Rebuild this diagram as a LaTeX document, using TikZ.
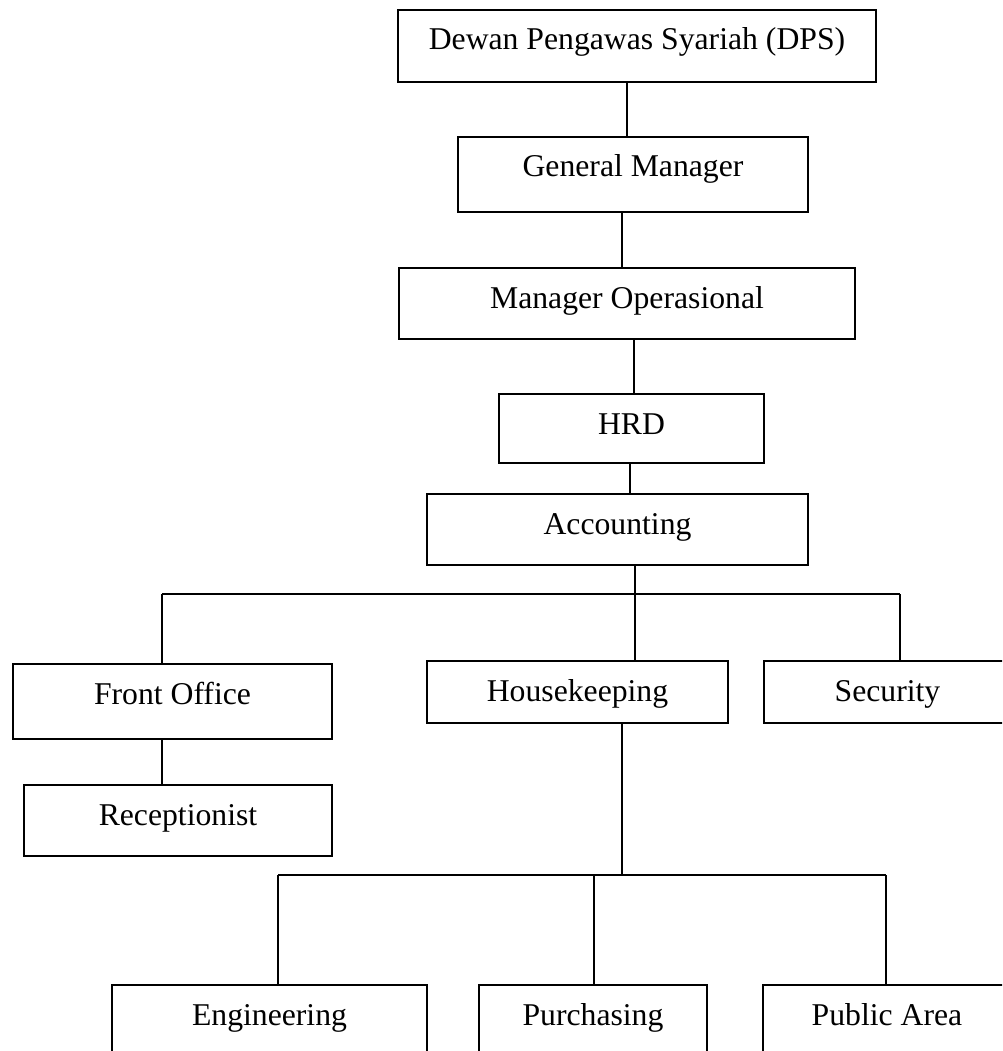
\documentclass[tikz,border=0pt]{standalone}
\usepackage{fontspec}
\setmainfont{Liberation Serif}
\usepackage{tikz}
\usetikzlibrary{positioning}

\begin{document}
\begin{tikzpicture}[
    x=1pt, y=-1pt,
    post/.style={rectangle, draw, line width=2pt, anchor=north west, inner xsep=0pt, inner ysep=0pt, text height=40pt, font=\fontsize{31.7}{38}\selectfont},
    link/.style={draw, line width=1.5pt},
]
\useasboundingbox (0,0) rectangle (1002,1051);
\clip (0,0) rectangle (1002,1051);

% upper chain
\node[post, minimum width=478pt, text depth=32pt] (dps) at (397,9) {Dewan Pengawas Syariah (DPS)};
\node[post, minimum width=350pt, text depth=35pt] (gm) at (457,136) {General Manager};
\node[post, minimum width=456pt, text depth=31pt] (mo) at (398,267) {Manager Operasional};
\node[post, minimum width=265pt, text depth=29pt] (hrd) at (498,393) {HRD};
\node[post, minimum width=381pt, text depth=31pt] (acc) at (426,493) {Accounting};

% departments
\node[post, minimum width=319pt, text depth=35pt] (fo) at (12,663) {Front Office};
\node[post, minimum width=301pt, text depth=22pt] (hk) at (426,660) {Housekeeping};
\node[post, minimum width=247pt, text depth=22pt] (sec) at (763,660) {Security};
\node[post, minimum width=308pt, text depth=31pt] (rec) at (23,784) {Receptionist};

% under housekeeping
\node[post, minimum width=315pt, text depth=36pt] (eng) at (111,984) {Engineering};
\node[post, minimum width=228pt, text depth=36pt] (pur) at (478,984) {Purchasing};
\node[post, minimum width=248pt, text depth=36pt] (pub) at (762,984) {Public Area};

\coordinate (busL) at (162,594);
\coordinate (busR) at (900,594);
\coordinate (subL) at (278,875);
\coordinate (subR) at (886,875);

\draw[link] (627,0 |- dps.south) -- (627,0 |- gm.north);
\draw[link] (622,0 |- gm.south) -- (622,0 |- mo.north);
\draw[link] (634,0 |- mo.south) -- (634,0 |- hrd.north);
\draw[link] (630,0 |- hrd.south) -- (630,0 |- acc.north);
\draw[link] (635,0 |- acc.south) -- (635,0 |- hk.north);

\draw[link] (busL) -- (busR);
\draw[link] (busL) -- (busL |- fo.north);
\draw[link] (busR) -- (busR |- sec.north);
\draw[link] (162,0 |- fo.south) -- (162,0 |- rec.north);

\draw[link] (622,0 |- hk.south) -- (622,0 |- subL);
\draw[link] (subL) -- (subR);
\draw[link] (subL) -- (subL |- eng.north);
\draw[link] (594,0 |- subL) -- (594,0 |- pur.north);
\draw[link] (subR) -- (subR |- pub.north);

\end{tikzpicture}
\end{document}
